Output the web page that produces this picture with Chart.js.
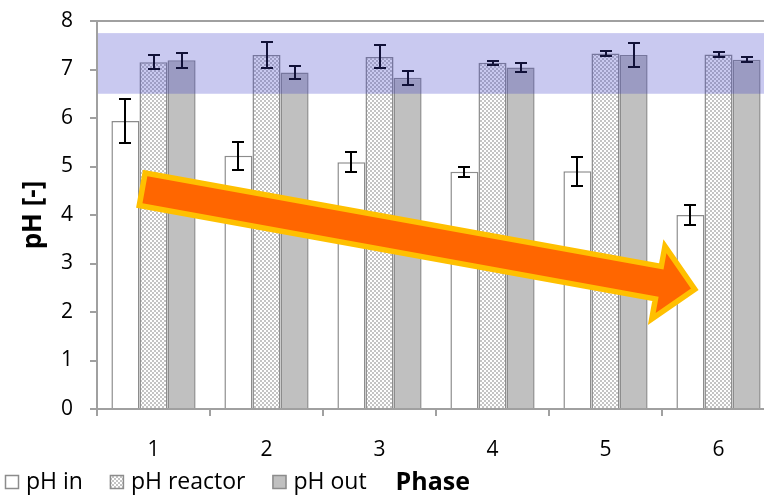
<!DOCTYPE html>
<html>
<head>
<meta charset="utf-8">
<script src="https://cdn.jsdelivr.net/npm/chart.js@4.4.0/dist/chart.umd.min.js"></script>
<style>
html, body { margin: 0; padding: 0; background: #fff; overflow: hidden; }
#wrap { position: absolute; left: 0; top: 0; width: 776px; height: 495px; }
</style>
</head>
<body>
<div id="wrap"><canvas id="phChart"></canvas></div>
<script>
const phases = ['1', '2', '3', '4', '5', '6'];
const phIn = [5.94, 5.22, 5.09, 4.89, 4.90, 4.00];
const phInErr = [0.45, 0.29, 0.20, 0.10, 0.30, 0.20];
const phReactor = [7.15, 7.30, 7.26, 7.14, 7.33, 7.31];
const phReactorErr = [0.14, 0.27, 0.235, 0.045, 0.045, 0.05];
const phOut = [7.19, 6.94, 6.83, 7.04, 7.30, 7.20];
const phOutErr = [0.15, 0.14, 0.145, 0.095, 0.24, 0.05];
const yTicks = [0, 1, 2, 3, 4, 5, 6, 7, 8];
const targetBand = [6.5, 7.75];
// trend arrow, in (phase index, pH) units
const trendArrow = { from: [-0.10, 4.53], to: [4.79, 2.47] };

const FONT = '"Open Sans"';
const AXIS_GREY = '#a0a0a0';
const BAR_EDGE = '#8c8c8c';

function checkerPattern() {
    const c = document.createElement('canvas');
    c.width = 4; c.height = 4;
    const g = c.getContext('2d');
    g.fillStyle = '#ffffff';
    g.fillRect(0, 0, 4, 4);
    g.fillStyle = '#c4c4c4';
    g.fillRect(0, 0, 2, 2);
    g.fillRect(2, 2, 2, 2);
    return g.createPattern(c, 'repeat');
}
const checker = checkerPattern();

const errorBars = {
    id: 'errorBars',
    afterDatasetsDraw(chart) {
        const ctx = chart.ctx;
        const y = chart.scales.y;
        ctx.save();
        ctx.strokeStyle = '#000';
        ctx.lineWidth = 2;
        chart.data.datasets.forEach((ds, i) => {
            chart.getDatasetMeta(i).data.forEach((bar, j) => {
                const top = Math.round(y.getPixelForValue(ds.data[j] + ds.errors[j]));
                const bot = Math.round(y.getPixelForValue(ds.data[j] - ds.errors[j]));
                const x = Math.round(bar.x);
                ctx.beginPath();
                ctx.moveTo(x, top); ctx.lineTo(x, bot);
                ctx.moveTo(x - 6, top); ctx.lineTo(x + 6, top);
                ctx.moveTo(x - 6, bot); ctx.lineTo(x + 6, bot);
                ctx.stroke();
            });
        });
        ctx.restore();
    }
};

const band = {
    id: 'band',
    afterDatasetsDraw(chart) {
        const { ctx, chartArea } = chart;
        const y = chart.scales.y;
        const top = y.getPixelForValue(targetBand[1]);
        const bot = y.getPixelForValue(targetBand[0]);
        ctx.save();
        ctx.fillStyle = 'rgba(60, 60, 200, 0.28)';
        ctx.fillRect(chartArea.left + 1, top, chartArea.right - chartArea.left, bot - top);
        // plot frame top edge
        ctx.strokeStyle = AXIS_GREY;
        ctx.lineWidth = 2;
        ctx.beginPath();
        ctx.moveTo(chartArea.left, chartArea.top);
        ctx.lineTo(chartArea.right, chartArea.top);
        ctx.stroke();
        ctx.restore();
    }
};

const arrow = {
    id: 'arrow',
    afterDraw(chart) {
        const ctx = chart.ctx;
        const xs = chart.scales.x, ys = chart.scales.y;
        const x0 = xs.getPixelForValue(trendArrow.from[0]), y0 = ys.getPixelForValue(trendArrow.from[1]);
        const x1 = xs.getPixelForValue(trendArrow.to[0]), y1 = ys.getPixelForValue(trendArrow.to[1]);
        const len = Math.hypot(x1 - x0, y1 - y0);
        const ux = (x1 - x0) / len, uy = (y1 - y0) / len;
        const nx = -uy, ny = ux;
        const shaft = 16.5, head = 37, headLen = 37;
        const pts = [[0, -shaft], [len - headLen, -shaft], [len - headLen, -head], [len, 0],
                     [len - headLen, head], [len - headLen, shaft], [0, shaft]];
        ctx.save();
        ctx.beginPath();
        pts.forEach(([a, b], k) => {
            const px = x0 + ux * a + nx * b, py = y0 + uy * a + ny * b;
            if (k) ctx.lineTo(px, py); else ctx.moveTo(px, py);
        });
        ctx.closePath();
        ctx.fillStyle = '#ff6600';
        ctx.fill();
        ctx.lineJoin = 'miter';
        ctx.lineWidth = 5.5;
        ctx.strokeStyle = '#ffc000';
        ctx.stroke();
        ctx.restore();
    }
};

const bottomLegend = {
    id: 'bottomLegend',
    afterDraw(chart) {
        const ctx = chart.ctx;
        const base = 489;
        let x = 5;
        ctx.save();
        ctx.font = '23px ' + FONT;
        ctx.textBaseline = 'alphabetic';
        ctx.fillStyle = '#000';
        chart.data.datasets.forEach(ds => {
            ctx.fillStyle = ds.backgroundColor;
            ctx.fillRect(x, base - 14, 14, 14);
            ctx.strokeStyle = BAR_EDGE;
            ctx.lineWidth = 1.5;
            ctx.strokeRect(x + 0.5, base - 13.5, 13, 13);
            ctx.fillStyle = '#000';
            ctx.fillText(ds.label, x + 21, base);
            x += 21 + ctx.measureText(ds.label).width + 27;
        });
        ctx.font = 'bold 25px ' + FONT;
        ctx.fillText('Phase', x + 2, base + 1);
        ctx.restore();
    }
};

const ctx = document.getElementById('phChart').getContext('2d');
new Chart(ctx, {
    type: 'bar',
    data: {
        labels: phases,
        datasets: [
            { label: 'pH in', data: phIn, errors: phInErr, backgroundColor: '#ffffff',
              borderColor: BAR_EDGE, borderWidth: 1.5 },
            { label: 'pH reactor', data: phReactor, errors: phReactorErr, backgroundColor: checker,
              borderColor: BAR_EDGE, borderWidth: 1.5 },
            { label: 'pH out', data: phOut, errors: phOutErr, backgroundColor: '#c0c0c0',
              borderColor: BAR_EDGE, borderWidth: 1.5 }
        ]
    },
    options: {
        responsive: true,
        maintainAspectRatio: false,
        animation: false,
        devicePixelRatio: 1,
        layout: { padding: { top: 21, right: 1, left: 0, bottom: 0 } },
        datasets: { bar: { barPercentage: 1, categoryPercentage: 0.745 } },
        plugins: {
            legend: { display: false },
            tooltip: { enabled: false }
        },
        scales: {
            x: {
                afterFit: s => { s.height = 86; s.paddingLeft = 0; s.paddingRight = 0; },
                grid: { drawOnChartArea: false, offset: true, tickLength: 7, color: AXIS_GREY, lineWidth: 2 },
                border: { color: AXIS_GREY, width: 2 },
                ticks: { color: '#000', padding: 21, font: { family: FONT, size: 21 } }
            },
            y: {
                min: 0,
                max: 8,
                afterFit: s => { s.width = 97; s.paddingTop = 0; s.paddingBottom = 0; },
                afterBuildTicks: s => { s.ticks = yTicks.map(v => ({ value: v })); },
                grid: { drawOnChartArea: false, tickLength: 7, color: AXIS_GREY, lineWidth: 2 },
                border: { color: AXIS_GREY, width: 2 },
                ticks: { color: '#000', padding: 17, font: { family: FONT, size: 21 } },
                title: { display: true, text: 'pH [-]', color: '#000', padding: { top: 18 },
                         font: { family: FONT, size: 26, weight: 'bold' } }
            }
        }
    },
    plugins: [errorBars, band, arrow, bottomLegend]
});
</script>
</body>
</html>
